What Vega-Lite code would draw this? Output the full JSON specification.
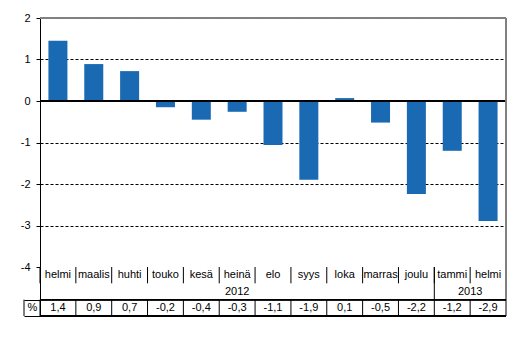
{
  "$schema": "https://vega.github.io/schema/vega-lite/v6.json",
  "background": "white",
  "padding": {"left": 20, "top": 12, "right": 5, "bottom": 5},
  "config": {
    "font": "Liberation Sans",
    "view": {"stroke": null},
    "axis": {"labelFont": "Liberation Sans", "labelFontSize": 11, "labelColor": "black"}
  },
  "datasets": {
    "months": [
      {"key": "2012-02", "month": "helmi", "value": 1.45, "label": "1,4"},
      {"key": "2012-03", "month": "maalis", "value": 0.89, "label": "0,9"},
      {"key": "2012-04", "month": "huhti", "value": 0.72, "label": "0,7"},
      {"key": "2012-05", "month": "touko", "value": -0.15, "label": "-0,2"},
      {"key": "2012-06", "month": "kesä", "value": -0.45, "label": "-0,4"},
      {"key": "2012-07", "month": "heinä", "value": -0.26, "label": "-0,3"},
      {"key": "2012-08", "month": "elo", "value": -1.06, "label": "-1,1"},
      {"key": "2012-09", "month": "syys", "value": -1.9, "label": "-1,9"},
      {"key": "2012-10", "month": "loka", "value": 0.07, "label": "0,1"},
      {"key": "2012-11", "month": "marras", "value": -0.52, "label": "-0,5"},
      {"key": "2012-12", "month": "joulu", "value": -2.24, "label": "-2,2"},
      {"key": "2013-01", "month": "tammi", "value": -1.2, "label": "-1,2"},
      {"key": "2013-02", "month": "helmi", "value": -2.89, "label": "-2,9"}
    ]
  },
  "vconcat": [
    {
      "width": 466,
      "height": 249,
      "data": {"name": "months"},
      "layer": [
        {
          "mark": {"type": "bar", "color": "#1a69b3", "width": {"band": 0.53}},
          "encoding": {
            "x": {"field": "key", "type": "nominal", "sort": null, "scale": {"padding": 0}, "axis": null},
            "y": {
              "field": "value", "type": "quantitative",
              "scale": {"domain": [-4, 2], "nice": false, "zero": false},
              "axis": {
                "values": [-4, -3, -2, -1, 0, 1, 2],
                "labelExpr": "toString(datum.value)",
                "title": null,
                "domainColor": "black",
                "tickColor": "black",
                "tickSize": 4,
                "labelPadding": 6,
                "grid": true,
                "gridColor": {"condition": {"test": "datum.value === -4 || datum.value === 0", "value": "transparent"}, "value": "black"},
                "gridDash": [3, 2]
              }
            }
          }
        },
        {"mark": {"type": "rule", "color": "black"}, "encoding": {"y": {"datum": 0}}},
        {"mark": {"type": "rule", "color": "#808080"}, "encoding": {"y": {"datum": 2}}},
        {"mark": {"type": "rule", "color": "#808080"}, "encoding": {"x": {"datum": "2013-02", "bandPosition": 1}}}
      ]
    },
    {
      "width": 466,
      "height": 49,
      "data": {"name": "months"},
      "layer": [
        {
          "mark": {"type": "text", "fontSize": 11, "color": "black"},
          "encoding": {
            "x": {"field": "key", "type": "nominal", "sort": null, "scale": {"padding": 0}, "axis": null},
            "y": {
              "datum": 0.5, "type": "quantitative",
              "scale": {"domain": [0, 3], "reverse": true, "nice": false, "zero": false},
              "axis": {
                "values": [2, 3],
                "title": null,
                "domainColor": "black",
                "tickColor": "black",
                "tickSize": 16,
                "grid": false,
                "labelExpr": "datum.value === 2 ? '%' : ''",
                "labelAlign": "center",
                "labelBaseline": "middle",
                "labelPadding": -8,
                "labelOffset": 8
              }
            },
            "text": {"field": "month"}
          }
        },
        {
          "mark": {"type": "text", "fontSize": 11, "color": "black"},
          "encoding": {
            "x": {"field": "key", "type": "nominal", "sort": null},
            "y": {"datum": 2.5},
            "text": {"field": "label"}
          }
        },
        {
          "data": {"values": [{"year": "2012", "anchor": "2012-07"}]},
          "mark": {"type": "text", "fontSize": 11, "color": "black"},
          "encoding": {
            "x": {"field": "anchor", "type": "nominal", "sort": null},
            "y": {"datum": 1.5},
            "text": {"field": "year"}
          }
        },
        {
          "data": {"values": [{"year": "2013", "anchor": "2013-02"}]},
          "mark": {"type": "text", "fontSize": 11, "color": "black"},
          "encoding": {
            "x": {"field": "anchor", "type": "nominal", "sort": null, "bandPosition": 0},
            "y": {"datum": 1.5},
            "text": {"field": "year"}
          }
        },
        {
          "mark": {"type": "rule", "color": "black"},
          "encoding": {
            "x": {"field": "key", "type": "nominal", "sort": null, "bandPosition": 0},
            "y": {"datum": 0},
            "y2": {"datum": 1}
          }
        },
        {
          "mark": {"type": "rule", "color": "black"},
          "encoding": {
            "x": {"field": "key", "type": "nominal", "sort": null, "bandPosition": 0},
            "y": {"datum": 2},
            "y2": {"datum": 3}
          }
        },
        {
          "data": {"values": [{"anchor": "2013-01"}]},
          "mark": {"type": "rule", "color": "black"},
          "encoding": {
            "x": {"field": "anchor", "type": "nominal", "sort": null, "bandPosition": 0},
            "y": {"datum": 0},
            "y2": {"datum": 2}
          }
        },
        {
          "data": {"values": [{"anchor": "2013-02"}]},
          "mark": {"type": "rule", "color": "black"},
          "encoding": {
            "x": {"field": "anchor", "type": "nominal", "sort": null, "bandPosition": 1},
            "y": {"datum": 0},
            "y2": {"datum": 3}
          }
        },
        {
          "data": {"values": [{"anchor": "2012-02"}]},
          "mark": {"type": "rule", "color": "black", "xOffset": -16},
          "encoding": {
            "x": {"field": "anchor", "type": "nominal", "sort": null, "bandPosition": 0},
            "y": {"datum": 2},
            "y2": {"datum": 3}
          }
        },
        {"mark": {"type": "rule", "color": "black"}, "encoding": {"y": {"datum": 2}}},
        {"mark": {"type": "rule", "color": "black"}, "encoding": {"y": {"datum": 3}}}
      ]
    }
  ],
  "bounds": "flush",
  "spacing": 0
}
